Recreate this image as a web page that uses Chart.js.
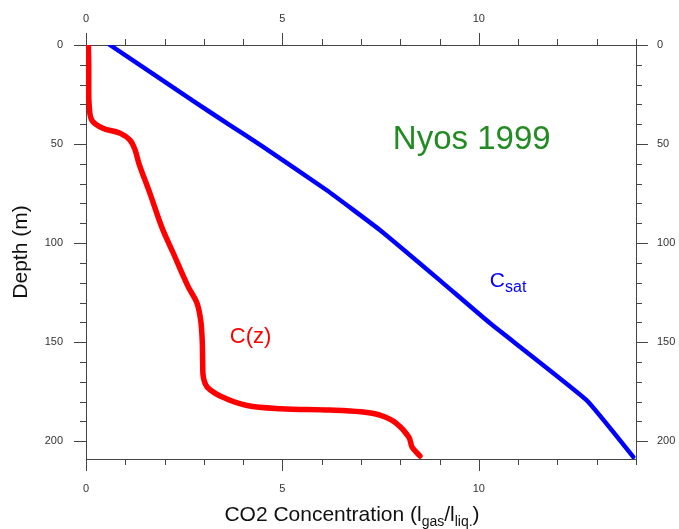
<!DOCTYPE html>
<html>
<head>
<meta charset="utf-8">
<script src="https://cdn.jsdelivr.net/npm/chart.js@4/dist/chart.umd.min.js"></script>
<style>
  html, body { margin: 0; padding: 0; background: #fff; }
  canvas { display: block; }
</style>
</head>
<body>
<canvas id="chart" width="679" height="529"></canvas>
<script>
// Dissolved CO2 profile of Lake Nyos, 1999: measured C(z) and saturation Csat
const czConc   = [0.06, 0.07, 0.07, 0.08, 0.15, 0.43, 0.87, 1.12, 1.25, 1.35, 1.63, 1.93, 2.22, 2.60, 2.82, 2.92, 2.96, 2.97, 2.99, 3.10, 3.50, 4.10, 4.95, 6.20, 7.00, 7.50, 7.90, 8.22, 8.30, 8.50];
const czDepth  = [0, 10, 20, 30, 38, 42, 44.5, 48, 53, 60, 75, 92, 105, 122, 130, 139, 150, 160, 168, 173, 178, 182, 183.6, 184.3, 185.2, 187, 191, 198, 203, 207.5];

const csatConc  = [0.61, 2.82, 3.66, 4.51, 6.12, 7.48, 9.00, 10.28, 12.74, 13.93];
const csatDepth = [0, 29.5, 40.4, 51.4, 73.2, 93.4, 118.7, 140.4, 179.3, 207.9];

const concTicks  = [0, 5, 10];
const depthTicks = [0, 50, 100, 150, 200];
const concRange  = [0, 14];
const depthRange = [0, 209];
const concMinorStep  = 1;
const depthMinorStep = 10;

const FONT = "'Liberation Sans', Arial, Helvetica, sans-serif";
const AXIS = '#444';
const TICK_TEXT = '#333';

function points(xs, ys) { return xs.map((x, i) => ({ x: x, y: ys[i] })); }

// Draws a line of text made of runs, some lowered as subscripts
function drawRuns(ctx, x, y, runs, align) {
  let width = 0;
  runs.forEach(r => { ctx.font = r.font; width += ctx.measureText(r.text).width; });
  let cx = align === 'center' ? x - width / 2 : x;
  ctx.textAlign = 'left';
  ctx.textBaseline = 'alphabetic';
  runs.forEach(r => {
    ctx.font = r.font;
    ctx.fillText(r.text, cx, y + (r.dy || 0));
    cx += ctx.measureText(r.text).width;
  });
}

// Outward tick marks on all four sides: long at labelled values, short in between
const tickMarks = {
  id: 'tickMarks',
  afterDraw(chart) {
    const { ctx, scales } = chart;
    const bottom = scales.x, top = scales.x2, left = scales.y, right = scales.y2;
    ctx.save();
    ctx.strokeStyle = AXIS;
    ctx.lineWidth = 1;
    ctx.beginPath();
    for (let v = concRange[0]; v <= concRange[1]; v += concMinorStep) {
      const len = concTicks.includes(v) ? 12 : 6;
      const px = Math.round(bottom.getPixelForValue(v)) + 0.5;
      ctx.moveTo(px, bottom.top); ctx.lineTo(px, bottom.top + len);
      ctx.moveTo(px, top.bottom); ctx.lineTo(px, top.bottom - len);
    }
    for (let d = depthRange[0]; d <= depthRange[1]; d += depthMinorStep) {
      const len = depthTicks.includes(d) ? 12 : 6;
      const py = Math.round(left.getPixelForValue(d)) + 0.5;
      ctx.moveTo(left.right, py); ctx.lineTo(left.right - len, py);
      ctx.moveTo(right.left, py); ctx.lineTo(right.left + len, py);
    }
    ctx.stroke();
    ctx.restore();
  }
};

// Axis title with subscripts and the in-plot labels
const textLabels = {
  id: 'textLabels',
  afterDraw(chart) {
    const { ctx, scales } = chart;
    const X = v => scales.x.getPixelForValue(v);
    const Y = d => scales.y.getPixelForValue(d);
    ctx.save();

    ctx.fillStyle = '#111';
    const big = '21px ' + FONT, small = '14px ' + FONT;
    drawRuns(ctx, 352, 521, [
      { text: 'CO2 Concentration (l', font: big },
      { text: 'gas', font: small, dy: 5 },
      { text: '/l', font: big },
      { text: 'liq.', font: small, dy: 5 },
      { text: ')', font: big }
    ], 'center');

    ctx.fillStyle = '#238b23';
    drawRuns(ctx, X(7.81), Y(52.5), [{ text: 'Nyos 1999', font: '33px ' + FONT }], 'left');

    ctx.fillStyle = '#0000ff';
    drawRuns(ctx, X(10.28), Y(122), [
      { text: 'C', font: '21px ' + FONT },
      { text: 'sat', font: '16px ' + FONT, dy: 5 }
    ], 'left');

    ctx.fillStyle = '#ff0000';
    drawRuns(ctx, X(3.66), Y(150.5), [{ text: 'C(z)', font: '22px ' + FONT }], 'left');

    ctx.restore();
  }
};

function hAxis(position, height, pad) {
  return {
    type: 'linear', position: position,
    min: concRange[0], max: concRange[1],
    afterBuildTicks: s => { s.ticks = concTicks.map(value => ({ value })); },
    afterFit: s => { s.height = height; },
    grid: { display: true, drawOnChartArea: false, drawTicks: true, tickLength: 12, tickColor: 'rgba(0,0,0,0)' },
    border: { display: true, color: AXIS, width: 1 },
    ticks: { padding: pad, color: TICK_TEXT, font: { family: FONT, size: 11 }, maxRotation: 0 }
  };
}

function vAxis(position, width, pad, title) {
  return {
    type: 'linear', position: position, reverse: true,
    min: depthRange[0], max: depthRange[1],
    afterBuildTicks: s => { s.ticks = depthTicks.map(value => ({ value })); },
    afterFit: s => { s.width = width; },
    grid: { display: true, drawOnChartArea: false, drawTicks: true, tickLength: 12, tickColor: 'rgba(0,0,0,0)' },
    border: { display: true, color: AXIS, width: 1 },
    ticks: { padding: pad, color: TICK_TEXT, font: { family: FONT, size: 11 } },
    title: title
  };
}

new Chart(document.getElementById('chart'), {
  type: 'scatter',
  data: {
    datasets: [
      {
        label: 'Csat',
        data: points(csatConc, csatDepth),
        showLine: true,
        borderColor: '#0000ff',
        borderWidth: 4.5,
        pointRadius: 0,
        tension: 0.12,
        borderCapStyle: 'round',
        borderJoinStyle: 'round',
        xAxisID: 'x', yAxisID: 'y'
      },
      {
        label: 'C(z)',
        data: points(czConc, czDepth),
        showLine: true,
        borderColor: '#ff0000',
        borderWidth: 5.5,
        pointRadius: 0,
        tension: 0.35,
        borderCapStyle: 'round',
        borderJoinStyle: 'round',
        xAxisID: 'x', yAxisID: 'y'
      }
    ]
  },
  options: {
    responsive: false,
    animation: false,
    layout: { padding: 0 },
    plugins: { legend: { display: false }, tooltip: { enabled: false } },
    scales: {
      x:  hAxis('bottom', 70, 11),
      x2: hAxis('top', 45, 7),
      y:  vAxis('left', 86, 11, {
        display: true, text: 'Depth (m)', color: '#111',
        font: { family: FONT, size: 21 }, padding: { top: 9, bottom: 0 }
      }),
      y2: vAxis('right', 43, 9, { display: false })
    }
  },
  plugins: [tickMarks, textLabels]
});
</script>
</body>
</html>
